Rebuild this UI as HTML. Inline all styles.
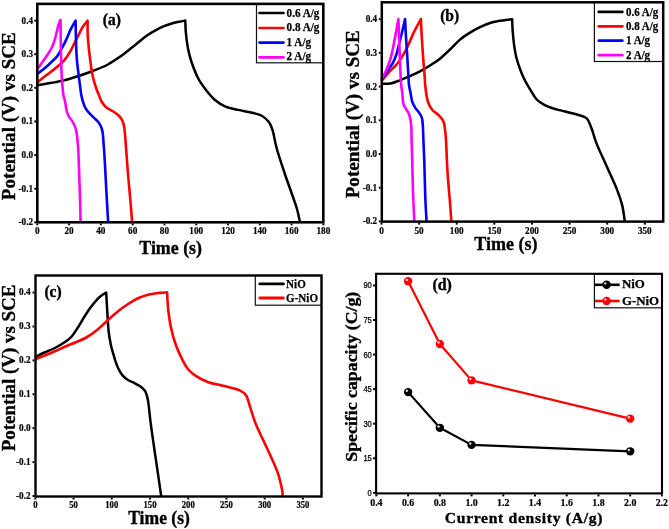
<!DOCTYPE html>
<html><head><meta charset="utf-8"><title>Figure</title>
<style>
html,body{margin:0;padding:0;background:#fff;}
body{width:669px;height:529px;overflow:hidden;font-family:"Liberation Serif", serif;}
svg{display:block;will-change:transform;}
</style></head><body>
<svg width="669" height="529" viewBox="0 0 669 529">
<rect width="669" height="529" fill="#fff"/>
<path d="M37.7,85.3 C39.78,84.93 45.75,83.95 50.2,83.1 C54.65,82.25 59.67,81.38 64.4,80.2 C69.13,79.02 73.88,77.53 78.6,76 C83.32,74.47 87.82,72.92 92.7,71 C97.58,69.08 103.17,67.02 107.9,64.5 C112.63,61.98 117.42,58.47 121.1,55.9 C124.78,53.33 127.1,51.37 130,49.1 C132.9,46.83 135.67,44.57 138.5,42.3 C141.33,40.03 144.17,37.48 147,35.5 C149.83,33.52 152.67,31.95 155.5,30.4 C158.33,28.85 161.17,27.38 164,26.2 C166.83,25.02 169.67,24.1 172.5,23.3 C175.33,22.5 178.87,21.87 181,21.4 C183.13,20.93 184.58,20.65 185.3,20.5 C185.38,22.43 185.38,27.62 185.8,32.1 C186.22,36.58 186.9,42.58 187.8,47.4 C188.7,52.22 189.5,55.9 191.2,61 C192.9,66.1 195.53,73.17 198,78 C200.47,82.83 203.17,86.33 206,90 C208.83,93.67 211.75,97.23 215,100 C218.25,102.77 221.62,104.95 225.5,106.6 C229.38,108.25 234.05,108.92 238.3,109.9 C242.55,110.88 247.17,111.57 251,112.5 C254.83,113.43 258.32,113.93 261.3,115.5 C264.28,117.07 266.98,119.35 268.9,121.9 C270.82,124.45 271.52,126.45 272.8,130.8 C274.08,135.15 274.7,141.13 276.6,148 C278.5,154.87 281.65,164.33 284.2,172 C286.75,179.67 289.77,187.83 291.9,194 C294.03,200.17 295.68,204.42 297,209 C298.32,213.58 299.33,219.42 299.8,221.5" fill="none" stroke="#000" stroke-width="2.5" stroke-linejoin="round" stroke-linecap="round"/>
<path d="M38.1,81.7 C39.25,80.8 42.68,78.08 45,76.3 C47.32,74.52 49.72,72.78 52,71 C54.28,69.22 56.63,67.4 58.7,65.6 C60.77,63.8 62.52,62.48 64.4,60.2 C66.28,57.92 68.35,54.7 70,51.9 C71.65,49.1 72.87,46.23 74.3,43.4 C75.73,40.57 77.18,37.67 78.6,34.9 C80.02,32.13 81.3,29.18 82.8,26.8 C84.3,24.43 86.8,21.67 87.6,20.65 C87.63,23.26 87.42,30.14 87.8,36.3 C88.18,42.46 89.08,50.98 89.9,57.6 C90.72,64.22 91.63,70.85 92.7,76 C93.77,81.15 95.27,85.33 96.3,88.5 C97.33,91.67 98.07,92.92 98.9,95 C99.73,97.08 100.15,99 101.3,101 C102.45,103 104.05,105.4 105.8,107 C107.55,108.6 109.8,109.32 111.8,110.6 C113.8,111.88 116.2,113.32 117.8,114.7 C119.4,116.08 120.4,117.2 121.4,118.9 C122.4,120.6 123.2,122.3 123.8,124.9 C124.4,127.5 124.6,130.32 125,134.5 C125.4,138.68 125.73,143.82 126.2,150 C126.67,156.18 127.12,163.33 127.8,171.6 C128.48,179.87 129.58,191.28 130.3,199.6 C131.02,207.92 131.8,217.85 132.1,221.5" fill="none" stroke="#f00" stroke-width="2.6" stroke-linejoin="round" stroke-linecap="round"/>
<path d="M38.1,73.2 C38.93,72.6 41.08,71.27 43.1,69.6 C45.12,67.93 47.83,65.45 50.2,63.2 C52.57,60.95 55.3,58.7 57.3,56.1 C59.3,53.5 60.67,50.43 62.2,47.6 C63.73,44.77 65.07,42.17 66.5,39.1 C67.93,36.03 69.28,32.27 70.8,29.2 C72.32,26.12 74.8,22.07 75.6,20.65 C75.65,23.26 75.72,30.14 75.9,36.3 C76.08,42.46 76.25,51.22 76.7,57.6 C77.15,63.98 78.05,69.95 78.6,74.6 C79.15,79.25 79.55,82.1 80,85.5 C80.45,88.9 80.78,92.22 81.3,95 C81.82,97.78 82.4,100 83.1,102.2 C83.8,104.4 84.5,106.42 85.5,108.2 C86.5,109.98 87.7,111.32 89.1,112.9 C90.5,114.48 92.3,116.1 93.9,117.7 C95.5,119.3 97.4,120.7 98.7,122.5 C100,124.3 101,126.5 101.7,128.5 C102.4,130.5 102.6,132.12 102.9,134.5 C103.2,136.88 103.3,140.22 103.5,142.8 C103.7,145.38 103.85,146.3 104.1,150 C104.35,153.7 104.63,158.33 105,165 C105.37,171.67 105.78,180.58 106.3,190 C106.82,199.42 107.8,216.25 108.1,221.5" fill="none" stroke="#00f" stroke-width="2.6" stroke-linejoin="round" stroke-linecap="round"/>
<path d="M38.1,68.2 C38.93,67 41.57,63.2 43.1,61 C44.63,58.8 45.88,57.17 47.3,55 C48.72,52.83 50.42,50.37 51.6,48 C52.78,45.63 53.57,43.38 54.4,40.8 C55.23,38.22 55.93,35.1 56.6,32.5 C57.27,29.9 57.75,27.27 58.4,25.2 C59.05,23.12 60.15,20.91 60.5,20.05 C60.55,23.94 60.63,34.79 60.8,43.4 C60.97,52.01 61.22,64.55 61.5,71.7 C61.78,78.85 62.18,82.42 62.5,86.3 C62.82,90.18 62.95,92.35 63.4,95 C63.85,97.65 64.67,99.6 65.2,102.2 C65.73,104.8 66,108.22 66.6,110.6 C67.2,112.98 67.83,114.72 68.8,116.5 C69.77,118.28 71.32,119.5 72.4,121.3 C73.48,123.1 74.55,125.1 75.3,127.3 C76.05,129.5 76.5,131.92 76.9,134.5 C77.3,137.08 77.47,140.22 77.7,142.8 C77.93,145.38 78.1,146.05 78.3,150 C78.5,153.95 78.62,158.67 78.9,166.5 C79.18,174.33 79.72,187.83 80,197 C80.28,206.17 80.5,217.42 80.6,221.5" fill="none" stroke="#f0f" stroke-width="2.6" stroke-linejoin="round" stroke-linecap="round"/>
<line x1="34.3" y1="222.32" x2="36.1" y2="222.32" stroke="#000" stroke-width="2"/>
<line x1="34.3" y1="188.7" x2="36.1" y2="188.7" stroke="#000" stroke-width="2"/>
<line x1="34.3" y1="155.08" x2="36.1" y2="155.08" stroke="#000" stroke-width="2"/>
<line x1="34.3" y1="121.46" x2="36.1" y2="121.46" stroke="#000" stroke-width="2"/>
<line x1="34.3" y1="87.84" x2="36.1" y2="87.84" stroke="#000" stroke-width="2"/>
<line x1="34.3" y1="54.22" x2="36.1" y2="54.22" stroke="#000" stroke-width="2"/>
<line x1="34.3" y1="20.6" x2="36.1" y2="20.6" stroke="#000" stroke-width="2"/>
<line x1="37.3" y1="223.5" x2="37.3" y2="225.3" stroke="#000" stroke-width="2"/>
<line x1="69.09" y1="223.5" x2="69.09" y2="225.3" stroke="#000" stroke-width="2"/>
<line x1="100.88" y1="223.5" x2="100.88" y2="225.3" stroke="#000" stroke-width="2"/>
<line x1="132.66" y1="223.5" x2="132.66" y2="225.3" stroke="#000" stroke-width="2"/>
<line x1="164.45" y1="223.5" x2="164.45" y2="225.3" stroke="#000" stroke-width="2"/>
<line x1="196.24" y1="223.5" x2="196.24" y2="225.3" stroke="#000" stroke-width="2"/>
<line x1="228.03" y1="223.5" x2="228.03" y2="225.3" stroke="#000" stroke-width="2"/>
<line x1="259.82" y1="223.5" x2="259.82" y2="225.3" stroke="#000" stroke-width="2"/>
<line x1="291.6" y1="223.5" x2="291.6" y2="225.3" stroke="#000" stroke-width="2"/>
<line x1="323.39" y1="223.5" x2="323.39" y2="225.3" stroke="#000" stroke-width="2"/>
<text x="33.1" y="225.32" font-size="10" font-weight="bold" text-anchor="end" font-family='"Liberation Serif", serif' textLength="14.56" lengthAdjust="spacingAndGlyphs"  stroke="#000" stroke-width="0.2">-0.2</text>
<text x="33.1" y="191.7" font-size="10" font-weight="bold" text-anchor="end" font-family='"Liberation Serif", serif' textLength="14.56" lengthAdjust="spacingAndGlyphs"  stroke="#000" stroke-width="0.2">-0.1</text>
<text x="33.1" y="158.08" font-size="10" font-weight="bold" text-anchor="end" font-family='"Liberation Serif", serif' textLength="11.5" lengthAdjust="spacingAndGlyphs"  stroke="#000" stroke-width="0.2">0.0</text>
<text x="33.1" y="124.46" font-size="10" font-weight="bold" text-anchor="end" font-family='"Liberation Serif", serif' textLength="11.5" lengthAdjust="spacingAndGlyphs"  stroke="#000" stroke-width="0.2">0.1</text>
<text x="33.1" y="90.84" font-size="10" font-weight="bold" text-anchor="end" font-family='"Liberation Serif", serif' textLength="11.5" lengthAdjust="spacingAndGlyphs"  stroke="#000" stroke-width="0.2">0.2</text>
<text x="33.1" y="57.22" font-size="10" font-weight="bold" text-anchor="end" font-family='"Liberation Serif", serif' textLength="11.5" lengthAdjust="spacingAndGlyphs"  stroke="#000" stroke-width="0.2">0.3</text>
<text x="33.1" y="23.6" font-size="10" font-weight="bold" text-anchor="end" font-family='"Liberation Serif", serif' textLength="11.5" lengthAdjust="spacingAndGlyphs"  stroke="#000" stroke-width="0.2">0.4</text>
<text x="37.3" y="233.9" font-size="10" font-weight="bold" text-anchor="middle" font-family='"Liberation Serif", serif' textLength="4.6" lengthAdjust="spacingAndGlyphs"  stroke="#000" stroke-width="0.2">0</text>
<text x="69.09" y="233.9" font-size="10" font-weight="bold" text-anchor="middle" font-family='"Liberation Serif", serif' textLength="9.2" lengthAdjust="spacingAndGlyphs"  stroke="#000" stroke-width="0.2">20</text>
<text x="100.88" y="233.9" font-size="10" font-weight="bold" text-anchor="middle" font-family='"Liberation Serif", serif' textLength="9.2" lengthAdjust="spacingAndGlyphs"  stroke="#000" stroke-width="0.2">40</text>
<text x="132.66" y="233.9" font-size="10" font-weight="bold" text-anchor="middle" font-family='"Liberation Serif", serif' textLength="9.2" lengthAdjust="spacingAndGlyphs"  stroke="#000" stroke-width="0.2">60</text>
<text x="164.45" y="233.9" font-size="10" font-weight="bold" text-anchor="middle" font-family='"Liberation Serif", serif' textLength="9.2" lengthAdjust="spacingAndGlyphs"  stroke="#000" stroke-width="0.2">80</text>
<text x="196.24" y="233.9" font-size="10" font-weight="bold" text-anchor="middle" font-family='"Liberation Serif", serif' textLength="13.8" lengthAdjust="spacingAndGlyphs"  stroke="#000" stroke-width="0.2">100</text>
<text x="228.03" y="233.9" font-size="10" font-weight="bold" text-anchor="middle" font-family='"Liberation Serif", serif' textLength="13.8" lengthAdjust="spacingAndGlyphs"  stroke="#000" stroke-width="0.2">120</text>
<text x="259.82" y="233.9" font-size="10" font-weight="bold" text-anchor="middle" font-family='"Liberation Serif", serif' textLength="13.8" lengthAdjust="spacingAndGlyphs"  stroke="#000" stroke-width="0.2">140</text>
<text x="291.6" y="233.9" font-size="10" font-weight="bold" text-anchor="middle" font-family='"Liberation Serif", serif' textLength="13.8" lengthAdjust="spacingAndGlyphs"  stroke="#000" stroke-width="0.2">160</text>
<text x="323.39" y="233.9" font-size="10" font-weight="bold" text-anchor="middle" font-family='"Liberation Serif", serif' textLength="13.8" lengthAdjust="spacingAndGlyphs"  stroke="#000" stroke-width="0.2">180</text>
<text stroke="#000" stroke-width="0.35" x="170.65" y="253.5" font-size="18.6" font-weight="bold" text-anchor="middle" font-family='"Liberation Serif", serif' textLength="62.7" lengthAdjust="spacingAndGlyphs">Time (s)</text>
<text stroke="#000" stroke-width="0.35" transform="translate(14.6,116.2) rotate(-90)" font-size="19.2" font-weight="bold" text-anchor="middle" font-family='"Liberation Serif", serif' textLength="167.9" lengthAdjust="spacingAndGlyphs">Potential (V) vs SCE</text>
<text x="111.8" y="24.8" font-size="16" font-weight="bold" text-anchor="middle" font-family='"Liberation Serif", serif' textLength="18.1" lengthAdjust="spacingAndGlyphs"  stroke="#000" stroke-width="0.4">(a)</text>
<rect x="256.5" y="3.9" width="66.8" height="58.9" fill="#fff" stroke="#111" stroke-width="1.2"/>
<rect x="37.3" y="3.9" width="286" height="218.4" fill="none" stroke="#000" stroke-width="2.6"/>
<line x1="259.5" y1="13" x2="283.5" y2="13" stroke="#000" stroke-width="2.7" stroke-linecap="round"/>
<text x="286.6" y="17" font-size="12.4" font-weight="bold" text-anchor="start" font-family='"Liberation Serif", serif' textLength="32.86" lengthAdjust="spacingAndGlyphs"  stroke="#000" stroke-width="0.25">0.6 A/g</text>
<line x1="259.5" y1="28" x2="283.5" y2="28" stroke="#f00" stroke-width="2.7" stroke-linecap="round"/>
<text x="286.6" y="31.4" font-size="12.4" font-weight="bold" text-anchor="start" font-family='"Liberation Serif", serif' textLength="32.86" lengthAdjust="spacingAndGlyphs"  stroke="#000" stroke-width="0.25">0.8 A/g</text>
<line x1="259.5" y1="42.6" x2="283.5" y2="42.6" stroke="#00f" stroke-width="2.7" stroke-linecap="round"/>
<text x="286.6" y="46.1" font-size="12.4" font-weight="bold" text-anchor="start" font-family='"Liberation Serif", serif' textLength="24.49" lengthAdjust="spacingAndGlyphs"  stroke="#000" stroke-width="0.25">1 A/g</text>
<line x1="259.5" y1="57.3" x2="283.5" y2="57.3" stroke="#f0f" stroke-width="2.7" stroke-linecap="round"/>
<text x="286.6" y="60.3" font-size="12.4" font-weight="bold" text-anchor="start" font-family='"Liberation Serif", serif' textLength="24.49" lengthAdjust="spacingAndGlyphs"  stroke="#000" stroke-width="0.25">2 A/g</text>
<path d="M381.9,83.6 C383.25,83.6 386.98,84.15 390,83.6 C393.02,83.05 396.67,81.57 400,80.3 C403.33,79.03 406.67,77.5 410,76 C413.33,74.5 416.67,73.05 420,71.3 C423.33,69.55 426.67,67.58 430,65.5 C433.33,63.42 436.67,61.47 440,58.8 C443.33,56.13 446.67,52.7 450,49.5 C453.33,46.3 456.67,42.42 460,39.6 C463.33,36.78 466.67,34.68 470,32.6 C473.33,30.52 476.67,28.7 480,27.1 C483.33,25.5 486.67,24.05 490,23 C493.33,21.95 497.17,21.33 500,20.8 C502.83,20.27 504.97,20.05 507,19.8 C509.03,19.55 511.33,19.38 512.2,19.3 C512.27,21.08 512.28,25.7 512.6,30 C512.92,34.3 513.48,40.57 514.1,45.1 C514.72,49.63 515.3,53.17 516.3,57.2 C517.3,61.23 518.72,65.53 520.1,69.3 C521.48,73.07 522.83,76.28 524.6,79.8 C526.37,83.32 528.68,87.12 530.7,90.4 C532.72,93.68 534.43,97.1 536.7,99.5 C538.97,101.9 541.53,103.3 544.3,104.8 C547.07,106.3 550.55,107.57 553.3,108.5 C556.05,109.43 556.98,109.43 560.8,110.4 C564.62,111.37 571.93,113.02 576.2,114.3 C580.47,115.58 583.85,115.77 586.4,118.1 C588.95,120.43 589.8,124.05 591.5,128.3 C593.2,132.55 594.05,137.22 596.6,143.6 C599.15,149.98 603.4,158.93 606.8,166.6 C610.2,174.27 614.45,183.22 617,189.6 C619.55,195.98 620.82,199.75 622.1,204.9 C623.38,210.05 624.27,217.9 624.7,220.5" fill="none" stroke="#000" stroke-width="2.5" stroke-linejoin="round" stroke-linecap="round"/>
<path d="M381.9,80.5 C383.02,79.17 386.28,75.03 388.6,72.5 C390.92,69.97 393.63,67.78 395.8,65.3 C397.97,62.82 399.68,60.6 401.6,57.6 C403.52,54.6 405.4,51.22 407.3,47.3 C409.2,43.38 411.32,37.73 413,34.1 C414.68,30.47 416.08,28.02 417.4,25.5 C418.72,22.98 420.32,20.08 420.9,19 C421.03,21.77 421.33,29.25 421.7,35.6 C422.07,41.95 422.62,50.4 423.1,57.1 C423.58,63.8 424.25,71.15 424.6,75.8 C424.95,80.45 424.93,82.08 425.2,85 C425.47,87.92 425.68,90.35 426.2,93.3 C426.72,96.25 427.27,99.92 428.3,102.7 C429.33,105.48 430.67,107.92 432.4,110 C434.13,112.08 436.87,113.3 438.7,115.2 C440.53,117.1 442.37,119.15 443.4,121.4 C444.43,123.65 444.47,125.6 444.9,128.7 C445.33,131.8 445.57,132.82 446,140 C446.43,147.18 446.83,161.4 447.5,171.8 C448.17,182.2 449.37,194.28 450,202.4 C450.63,210.52 451.08,217.48 451.3,220.5" fill="none" stroke="#f00" stroke-width="2.6" stroke-linejoin="round" stroke-linecap="round"/>
<path d="M381.9,79.4 C382.78,78.08 385.37,74.25 387.2,71.5 C389.03,68.75 391.35,65.78 392.9,62.9 C394.45,60.02 395.42,57.57 396.5,54.2 C397.58,50.83 398.43,46.53 399.4,42.7 C400.37,38.87 401.35,35.15 402.3,31.2 C403.25,27.25 404.63,21.03 405.1,19 C405.23,21.77 405.53,29.25 405.9,35.6 C406.27,41.95 406.9,50.65 407.3,57.1 C407.7,63.55 408.02,69.65 408.3,74.3 C408.58,78.95 408.62,81.83 409,85 C409.38,88.17 410.07,90.53 410.6,93.3 C411.13,96.07 411.42,99.17 412.2,101.6 C412.98,104.03 414.1,105.98 415.3,107.9 C416.5,109.82 418.28,111.37 419.4,113.1 C420.52,114.83 421.42,116.05 422,118.3 C422.58,120.55 422.67,122.98 422.9,126.6 C423.13,130.22 423.17,134.18 423.4,140 C423.63,145.82 423.98,151.95 424.3,161.5 C424.62,171.05 424.93,187.47 425.3,197.3 C425.67,207.13 426.3,216.63 426.5,220.5" fill="none" stroke="#00f" stroke-width="2.6" stroke-linejoin="round" stroke-linecap="round"/>
<path d="M381.9,78.7 C382.53,77.5 384.33,74.62 385.7,71.5 C387.07,68.38 388.9,63.83 390.1,60 C391.3,56.17 392.07,52.33 392.9,48.5 C393.73,44.67 394.42,40.6 395.1,37 C395.78,33.4 396.45,29.9 397,26.9 C397.55,23.9 398.17,20.32 398.4,19 C398.5,21.77 398.77,29.25 399,35.6 C399.23,41.95 399.53,50.4 399.8,57.1 C400.07,63.8 400.37,71.15 400.6,75.8 C400.83,80.45 400.92,82.08 401.2,85 C401.48,87.92 401.95,90.18 402.3,93.3 C402.65,96.42 402.78,101.27 403.3,103.7 C403.82,106.13 404.53,106.33 405.4,107.9 C406.27,109.47 407.63,111.02 408.5,113.1 C409.37,115.18 410.12,117.8 410.6,120.4 C411.08,123 411.23,125.43 411.4,128.7 C411.57,131.97 411.47,134.78 411.6,140 C411.73,145.22 411.97,151.33 412.2,160 C412.43,168.67 412.65,181.92 413,192 C413.35,202.08 414.08,215.75 414.3,220.5" fill="none" stroke="#f0f" stroke-width="2.6" stroke-linejoin="round" stroke-linecap="round"/>
<line x1="378.8" y1="221.4" x2="380.6" y2="221.4" stroke="#000" stroke-width="2"/>
<line x1="378.8" y1="187.7" x2="380.6" y2="187.7" stroke="#000" stroke-width="2"/>
<line x1="378.8" y1="154" x2="380.6" y2="154" stroke="#000" stroke-width="2"/>
<line x1="378.8" y1="120.3" x2="380.6" y2="120.3" stroke="#000" stroke-width="2"/>
<line x1="378.8" y1="86.6" x2="380.6" y2="86.6" stroke="#000" stroke-width="2"/>
<line x1="378.8" y1="52.9" x2="380.6" y2="52.9" stroke="#000" stroke-width="2"/>
<line x1="378.8" y1="19.2" x2="380.6" y2="19.2" stroke="#000" stroke-width="2"/>
<line x1="381.5" y1="222.8" x2="381.5" y2="224.6" stroke="#000" stroke-width="2"/>
<line x1="419.12" y1="222.8" x2="419.12" y2="224.6" stroke="#000" stroke-width="2"/>
<line x1="456.73" y1="222.8" x2="456.73" y2="224.6" stroke="#000" stroke-width="2"/>
<line x1="494.35" y1="222.8" x2="494.35" y2="224.6" stroke="#000" stroke-width="2"/>
<line x1="531.96" y1="222.8" x2="531.96" y2="224.6" stroke="#000" stroke-width="2"/>
<line x1="569.58" y1="222.8" x2="569.58" y2="224.6" stroke="#000" stroke-width="2"/>
<line x1="607.19" y1="222.8" x2="607.19" y2="224.6" stroke="#000" stroke-width="2"/>
<line x1="644.81" y1="222.8" x2="644.81" y2="224.6" stroke="#000" stroke-width="2"/>
<text x="377.2" y="224.4" font-size="10" font-weight="bold" text-anchor="end" font-family='"Liberation Serif", serif' textLength="14.56" lengthAdjust="spacingAndGlyphs"  stroke="#000" stroke-width="0.2">-0.2</text>
<text x="377.2" y="190.7" font-size="10" font-weight="bold" text-anchor="end" font-family='"Liberation Serif", serif' textLength="14.56" lengthAdjust="spacingAndGlyphs"  stroke="#000" stroke-width="0.2">-0.1</text>
<text x="377.2" y="157" font-size="10" font-weight="bold" text-anchor="end" font-family='"Liberation Serif", serif' textLength="11.5" lengthAdjust="spacingAndGlyphs"  stroke="#000" stroke-width="0.2">0.0</text>
<text x="377.2" y="123.3" font-size="10" font-weight="bold" text-anchor="end" font-family='"Liberation Serif", serif' textLength="11.5" lengthAdjust="spacingAndGlyphs"  stroke="#000" stroke-width="0.2">0.1</text>
<text x="377.2" y="89.6" font-size="10" font-weight="bold" text-anchor="end" font-family='"Liberation Serif", serif' textLength="11.5" lengthAdjust="spacingAndGlyphs"  stroke="#000" stroke-width="0.2">0.2</text>
<text x="377.2" y="55.9" font-size="10" font-weight="bold" text-anchor="end" font-family='"Liberation Serif", serif' textLength="11.5" lengthAdjust="spacingAndGlyphs"  stroke="#000" stroke-width="0.2">0.3</text>
<text x="377.2" y="22.2" font-size="10" font-weight="bold" text-anchor="end" font-family='"Liberation Serif", serif' textLength="11.5" lengthAdjust="spacingAndGlyphs"  stroke="#000" stroke-width="0.2">0.4</text>
<text x="381.5" y="233.8" font-size="10" font-weight="bold" text-anchor="middle" font-family='"Liberation Serif", serif' textLength="4.6" lengthAdjust="spacingAndGlyphs"  stroke="#000" stroke-width="0.2">0</text>
<text x="419.12" y="233.8" font-size="10" font-weight="bold" text-anchor="middle" font-family='"Liberation Serif", serif' textLength="9.2" lengthAdjust="spacingAndGlyphs"  stroke="#000" stroke-width="0.2">50</text>
<text x="456.73" y="233.8" font-size="10" font-weight="bold" text-anchor="middle" font-family='"Liberation Serif", serif' textLength="13.8" lengthAdjust="spacingAndGlyphs"  stroke="#000" stroke-width="0.2">100</text>
<text x="494.35" y="233.8" font-size="10" font-weight="bold" text-anchor="middle" font-family='"Liberation Serif", serif' textLength="13.8" lengthAdjust="spacingAndGlyphs"  stroke="#000" stroke-width="0.2">150</text>
<text x="531.96" y="233.8" font-size="10" font-weight="bold" text-anchor="middle" font-family='"Liberation Serif", serif' textLength="13.8" lengthAdjust="spacingAndGlyphs"  stroke="#000" stroke-width="0.2">200</text>
<text x="569.58" y="233.8" font-size="10" font-weight="bold" text-anchor="middle" font-family='"Liberation Serif", serif' textLength="13.8" lengthAdjust="spacingAndGlyphs"  stroke="#000" stroke-width="0.2">250</text>
<text x="607.19" y="233.8" font-size="10" font-weight="bold" text-anchor="middle" font-family='"Liberation Serif", serif' textLength="13.8" lengthAdjust="spacingAndGlyphs"  stroke="#000" stroke-width="0.2">300</text>
<text x="644.81" y="233.8" font-size="10" font-weight="bold" text-anchor="middle" font-family='"Liberation Serif", serif' textLength="13.8" lengthAdjust="spacingAndGlyphs"  stroke="#000" stroke-width="0.2">350</text>
<text stroke="#000" stroke-width="0.35" x="505.95" y="249.8" font-size="18.6" font-weight="bold" text-anchor="middle" font-family='"Liberation Serif", serif' textLength="63.3" lengthAdjust="spacingAndGlyphs">Time (s)</text>
<text stroke="#000" stroke-width="0.35" transform="translate(358.6,114.25) rotate(-90)" font-size="19.2" font-weight="bold" text-anchor="middle" font-family='"Liberation Serif", serif' textLength="168.1" lengthAdjust="spacingAndGlyphs">Potential (V) vs SCE</text>
<text x="449.7" y="20.8" font-size="16" font-weight="bold" text-anchor="middle" font-family='"Liberation Serif", serif' textLength="18.97" lengthAdjust="spacingAndGlyphs"  stroke="#000" stroke-width="0.4">(b)</text>
<rect x="594.4" y="2.3" width="68.8" height="59.2" fill="#fff" stroke="#111" stroke-width="1.2"/>
<rect x="381.8" y="2.3" width="281.4" height="219.3" fill="none" stroke="#000" stroke-width="2.5"/>
<line x1="598.8" y1="11.9" x2="622.3" y2="11.9" stroke="#000" stroke-width="2.8" stroke-linecap="round"/>
<text x="626" y="15.5" font-size="12.2" font-weight="bold" text-anchor="start" font-family='"Liberation Serif", serif' textLength="32.33" lengthAdjust="spacingAndGlyphs"  stroke="#000" stroke-width="0.25">0.6 A/g</text>
<line x1="598.8" y1="26.3" x2="622.3" y2="26.3" stroke="#f00" stroke-width="2.8" stroke-linecap="round"/>
<text x="626" y="29.9" font-size="12.2" font-weight="bold" text-anchor="start" font-family='"Liberation Serif", serif' textLength="32.33" lengthAdjust="spacingAndGlyphs"  stroke="#000" stroke-width="0.25">0.8 A/g</text>
<line x1="598.8" y1="40.699999999999996" x2="622.3" y2="40.699999999999996" stroke="#00f" stroke-width="2.8" stroke-linecap="round"/>
<text x="626" y="44.3" font-size="12.2" font-weight="bold" text-anchor="start" font-family='"Liberation Serif", serif' textLength="24.1" lengthAdjust="spacingAndGlyphs"  stroke="#000" stroke-width="0.25">1 A/g</text>
<line x1="598.8" y1="55.199999999999996" x2="622.3" y2="55.199999999999996" stroke="#f0f" stroke-width="2.8" stroke-linecap="round"/>
<text x="626" y="58.8" font-size="12.2" font-weight="bold" text-anchor="start" font-family='"Liberation Serif", serif' textLength="24.1" lengthAdjust="spacingAndGlyphs"  stroke="#000" stroke-width="0.25">2 A/g</text>
<path d="M35.9,356.6 C37.33,355.92 41.33,353.93 44.5,352.5 C47.67,351.07 51.42,349.78 54.9,348 C58.38,346.22 62.6,343.72 65.4,341.8 C68.2,339.88 69.62,338.88 71.7,336.5 C73.78,334.12 75.82,330.75 77.9,327.5 C79.98,324.25 82.1,320.33 84.2,317 C86.3,313.67 88.4,310.37 90.5,307.5 C92.6,304.63 94.97,301.78 96.8,299.8 C98.63,297.82 99.93,296.8 101.5,295.6 C103.07,294.4 105.42,293.1 106.2,292.6 C106.35,295.23 106.7,302 107.1,308.4 C107.5,314.8 107.97,324.9 108.6,331 C109.23,337.1 110.07,341 110.9,345 C111.73,349 112.85,352.3 113.6,355 C114.35,357.7 114.62,358.95 115.4,361.2 C116.18,363.45 117.12,366.13 118.3,368.5 C119.48,370.87 120.93,373.52 122.5,375.4 C124.07,377.28 125.62,378.47 127.7,379.8 C129.78,381.13 132.75,382.2 135,383.4 C137.25,384.6 139.48,385.67 141.2,387 C142.92,388.33 144.27,389.63 145.3,391.4 C146.33,393.17 146.87,395.52 147.4,397.6 C147.93,399.68 148.2,401.83 148.5,403.9 C148.8,405.97 148.82,406.63 149.2,410 C149.58,413.37 149.95,417.65 150.8,424.1 C151.65,430.55 153.12,440.5 154.3,448.7 C155.48,456.9 156.77,465.52 157.9,473.3 C159.03,481.08 160.57,491.72 161.1,495.4" fill="none" stroke="#000" stroke-width="2.5" stroke-linejoin="round" stroke-linecap="round"/>
<path d="M35.9,359 C37.33,358.43 41.33,356.88 44.5,355.6 C47.67,354.32 51.42,352.82 54.9,351.3 C58.38,349.78 61.92,348.02 65.4,346.5 C68.88,344.98 72.32,343.7 75.8,342.2 C79.28,340.7 82.8,339.5 86.3,337.5 C89.8,335.5 93.32,332.98 96.8,330.2 C100.28,327.42 103.72,323.92 107.2,320.8 C110.68,317.68 114.22,314.3 117.7,311.5 C121.18,308.7 124.62,306.25 128.1,304 C131.58,301.75 135.1,299.58 138.6,298 C142.1,296.42 145.62,295.35 149.1,294.5 C152.58,293.65 156.5,293.25 159.5,292.9 C162.5,292.55 165.83,292.48 167.1,292.4 C167.27,295.07 167.47,302.58 168.1,308.4 C168.73,314.22 169.65,321.32 170.9,327.3 C172.15,333.28 173.55,338.63 175.6,344.3 C177.65,349.97 181.02,357.02 183.2,361.3 C185.38,365.58 186.55,367.53 188.7,370 C190.85,372.47 192.82,374.05 196.1,376.1 C199.38,378.15 204.32,380.78 208.4,382.3 C212.48,383.82 217.58,384.5 220.6,385.2 C223.62,385.9 223.32,385.63 226.5,386.5 C229.68,387.37 236.4,388.87 239.7,390.4 C243,391.93 244.53,392.82 246.3,395.7 C248.07,398.58 248.75,403.07 250.3,407.7 C251.85,412.33 253.4,417.98 255.6,423.5 C257.8,429.02 260.85,435.05 263.5,440.8 C266.15,446.55 269.07,452.5 271.5,458 C273.93,463.5 276.33,468.52 278.1,473.8 C279.87,479.08 281.35,486.08 282.1,489.7 C282.85,493.32 282.52,494.53 282.6,495.5" fill="none" stroke="#f00" stroke-width="2.6" stroke-linejoin="round" stroke-linecap="round"/>
<line x1="32.5" y1="496" x2="34.3" y2="496" stroke="#000" stroke-width="2"/>
<line x1="32.5" y1="462.1" x2="34.3" y2="462.1" stroke="#000" stroke-width="2"/>
<line x1="32.5" y1="428.2" x2="34.3" y2="428.2" stroke="#000" stroke-width="2"/>
<line x1="32.5" y1="394.3" x2="34.3" y2="394.3" stroke="#000" stroke-width="2"/>
<line x1="32.5" y1="360.4" x2="34.3" y2="360.4" stroke="#000" stroke-width="2"/>
<line x1="32.5" y1="326.5" x2="34.3" y2="326.5" stroke="#000" stroke-width="2"/>
<line x1="32.5" y1="292.6" x2="34.3" y2="292.6" stroke="#000" stroke-width="2"/>
<line x1="35.3" y1="497.7" x2="35.3" y2="499.5" stroke="#000" stroke-width="2"/>
<line x1="73.53" y1="497.7" x2="73.53" y2="499.5" stroke="#000" stroke-width="2"/>
<line x1="111.76" y1="497.7" x2="111.76" y2="499.5" stroke="#000" stroke-width="2"/>
<line x1="149.99" y1="497.7" x2="149.99" y2="499.5" stroke="#000" stroke-width="2"/>
<line x1="188.22" y1="497.7" x2="188.22" y2="499.5" stroke="#000" stroke-width="2"/>
<line x1="226.45" y1="497.7" x2="226.45" y2="499.5" stroke="#000" stroke-width="2"/>
<line x1="264.68" y1="497.7" x2="264.68" y2="499.5" stroke="#000" stroke-width="2"/>
<line x1="302.91" y1="497.7" x2="302.91" y2="499.5" stroke="#000" stroke-width="2"/>
<text x="30.6" y="498.6" font-size="10" font-weight="bold" text-anchor="end" font-family='"Liberation Serif", serif' textLength="14.56" lengthAdjust="spacingAndGlyphs"  stroke="#000" stroke-width="0.2">-0.2</text>
<text x="30.6" y="464.7" font-size="10" font-weight="bold" text-anchor="end" font-family='"Liberation Serif", serif' textLength="14.56" lengthAdjust="spacingAndGlyphs"  stroke="#000" stroke-width="0.2">-0.1</text>
<text x="30.6" y="430.8" font-size="10" font-weight="bold" text-anchor="end" font-family='"Liberation Serif", serif' textLength="11.5" lengthAdjust="spacingAndGlyphs"  stroke="#000" stroke-width="0.2">0.0</text>
<text x="30.6" y="396.9" font-size="10" font-weight="bold" text-anchor="end" font-family='"Liberation Serif", serif' textLength="11.5" lengthAdjust="spacingAndGlyphs"  stroke="#000" stroke-width="0.2">0.1</text>
<text x="30.6" y="363" font-size="10" font-weight="bold" text-anchor="end" font-family='"Liberation Serif", serif' textLength="11.5" lengthAdjust="spacingAndGlyphs"  stroke="#000" stroke-width="0.2">0.2</text>
<text x="30.6" y="329.1" font-size="10" font-weight="bold" text-anchor="end" font-family='"Liberation Serif", serif' textLength="11.5" lengthAdjust="spacingAndGlyphs"  stroke="#000" stroke-width="0.2">0.3</text>
<text x="30.6" y="295.2" font-size="10" font-weight="bold" text-anchor="end" font-family='"Liberation Serif", serif' textLength="11.5" lengthAdjust="spacingAndGlyphs"  stroke="#000" stroke-width="0.2">0.4</text>
<text x="35.3" y="508.4" font-size="9.4" font-weight="bold" text-anchor="middle" font-family='"Liberation Serif", serif' textLength="4.32" lengthAdjust="spacingAndGlyphs"  stroke="#000" stroke-width="0.2">0</text>
<text x="73.53" y="508.4" font-size="9.4" font-weight="bold" text-anchor="middle" font-family='"Liberation Serif", serif' textLength="8.65" lengthAdjust="spacingAndGlyphs"  stroke="#000" stroke-width="0.2">50</text>
<text x="111.76" y="508.4" font-size="9.4" font-weight="bold" text-anchor="middle" font-family='"Liberation Serif", serif' textLength="12.97" lengthAdjust="spacingAndGlyphs"  stroke="#000" stroke-width="0.2">100</text>
<text x="149.99" y="508.4" font-size="9.4" font-weight="bold" text-anchor="middle" font-family='"Liberation Serif", serif' textLength="12.97" lengthAdjust="spacingAndGlyphs"  stroke="#000" stroke-width="0.2">150</text>
<text x="188.22" y="508.4" font-size="9.4" font-weight="bold" text-anchor="middle" font-family='"Liberation Serif", serif' textLength="12.97" lengthAdjust="spacingAndGlyphs"  stroke="#000" stroke-width="0.2">200</text>
<text x="226.45" y="508.4" font-size="9.4" font-weight="bold" text-anchor="middle" font-family='"Liberation Serif", serif' textLength="12.97" lengthAdjust="spacingAndGlyphs"  stroke="#000" stroke-width="0.2">250</text>
<text x="264.68" y="508.4" font-size="9.4" font-weight="bold" text-anchor="middle" font-family='"Liberation Serif", serif' textLength="12.97" lengthAdjust="spacingAndGlyphs"  stroke="#000" stroke-width="0.2">300</text>
<text x="302.91" y="508.4" font-size="9.4" font-weight="bold" text-anchor="middle" font-family='"Liberation Serif", serif' textLength="12.97" lengthAdjust="spacingAndGlyphs"  stroke="#000" stroke-width="0.2">350</text>
<text stroke="#000" stroke-width="0.35" x="159.05" y="523.7" font-size="18.4" font-weight="bold" text-anchor="middle" font-family='"Liberation Serif", serif' textLength="61.7" lengthAdjust="spacingAndGlyphs">Time (s)</text>
<text stroke="#000" stroke-width="0.35" transform="translate(15,368) rotate(-90)" font-size="19" font-weight="bold" text-anchor="middle" font-family='"Liberation Serif", serif' textLength="166.6" lengthAdjust="spacingAndGlyphs">Potential (V) vs SCE</text>
<text x="53" y="297" font-size="16" font-weight="bold" text-anchor="middle" font-family='"Liberation Serif", serif' textLength="17.23" lengthAdjust="spacingAndGlyphs"  stroke="#000" stroke-width="0.4">(c)</text>
<rect x="255.3" y="275.5" width="66.2" height="29.7" fill="#fff" stroke="#111" stroke-width="1.2"/>
<rect x="35.5" y="275.5" width="286" height="221" fill="none" stroke="#000" stroke-width="2.4"/>
<line x1="259.8" y1="283.9" x2="283.4" y2="283.9" stroke="#000" stroke-width="2.8" stroke-linecap="round"/>
<text x="286.1" y="287.8" font-size="12.4" font-weight="bold" text-anchor="start" font-family='"Liberation Serif", serif' textLength="19.62" lengthAdjust="spacingAndGlyphs"  stroke="#000" stroke-width="0.25">NiO</text>
<line x1="259.8" y1="298" x2="283.4" y2="298" stroke="#f00" stroke-width="2.8" stroke-linecap="round"/>
<text x="286.1" y="302" font-size="12.4" font-weight="bold" text-anchor="start" font-family='"Liberation Serif", serif' textLength="31.88" lengthAdjust="spacingAndGlyphs"  stroke="#000" stroke-width="0.25">G-NiO</text>
<polyline points="408.12,392.12 439.84,427.83 471.56,444.88 630.16,451.33" fill="none" stroke="#000" stroke-width="2.2" stroke-linejoin="round"/>
<circle cx="408.12" cy="392.12" r="4.2" fill="#000"/>
<circle cx="406.82" cy="390.72" r="1.2" fill="#fff" opacity="0.85"/>
<circle cx="439.84" cy="427.83" r="4.2" fill="#000"/>
<circle cx="438.54" cy="426.43" r="1.2" fill="#fff" opacity="0.85"/>
<circle cx="471.56" cy="444.88" r="4.2" fill="#000"/>
<circle cx="470.26" cy="443.48" r="1.2" fill="#fff" opacity="0.85"/>
<circle cx="630.16" cy="451.33" r="4.2" fill="#000"/>
<circle cx="628.86" cy="449.93" r="1.2" fill="#fff" opacity="0.85"/>
<polyline points="408.12,281.29 439.84,343.96 471.56,380.36 630.16,418.61" fill="none" stroke="#f00" stroke-width="2.2" stroke-linejoin="round"/>
<circle cx="408.12" cy="281.29" r="4.2" fill="#f00"/>
<circle cx="406.82" cy="279.89" r="1.2" fill="#fff" opacity="0.85"/>
<circle cx="439.84" cy="343.96" r="4.2" fill="#f00"/>
<circle cx="438.54" cy="342.56" r="1.2" fill="#fff" opacity="0.85"/>
<circle cx="471.56" cy="380.36" r="4.2" fill="#f00"/>
<circle cx="470.26" cy="378.96" r="1.2" fill="#fff" opacity="0.85"/>
<circle cx="630.16" cy="418.61" r="4.2" fill="#f00"/>
<circle cx="628.86" cy="417.21" r="1.2" fill="#fff" opacity="0.85"/>
<line x1="373.1" y1="492.8" x2="375.1" y2="492.8" stroke="#000" stroke-width="2"/>
<line x1="373.1" y1="458.24" x2="375.1" y2="458.24" stroke="#000" stroke-width="2"/>
<line x1="373.1" y1="423.68" x2="375.1" y2="423.68" stroke="#000" stroke-width="2"/>
<line x1="373.1" y1="389.12" x2="375.1" y2="389.12" stroke="#000" stroke-width="2"/>
<line x1="373.1" y1="354.56" x2="375.1" y2="354.56" stroke="#000" stroke-width="2"/>
<line x1="373.1" y1="320" x2="375.1" y2="320" stroke="#000" stroke-width="2"/>
<line x1="373.1" y1="285.44" x2="375.1" y2="285.44" stroke="#000" stroke-width="2"/>
<line x1="376.4" y1="494.4" x2="376.4" y2="496.4" stroke="#000" stroke-width="2"/>
<line x1="408.12" y1="494.4" x2="408.12" y2="496.4" stroke="#000" stroke-width="2"/>
<line x1="439.84" y1="494.4" x2="439.84" y2="496.4" stroke="#000" stroke-width="2"/>
<line x1="471.56" y1="494.4" x2="471.56" y2="496.4" stroke="#000" stroke-width="2"/>
<line x1="503.28" y1="494.4" x2="503.28" y2="496.4" stroke="#000" stroke-width="2"/>
<line x1="535" y1="494.4" x2="535" y2="496.4" stroke="#000" stroke-width="2"/>
<line x1="566.72" y1="494.4" x2="566.72" y2="496.4" stroke="#000" stroke-width="2"/>
<line x1="598.44" y1="494.4" x2="598.44" y2="496.4" stroke="#000" stroke-width="2"/>
<line x1="630.16" y1="494.4" x2="630.16" y2="496.4" stroke="#000" stroke-width="2"/>
<line x1="661.88" y1="494.4" x2="661.88" y2="496.4" stroke="#000" stroke-width="2"/>
<text x="371.8" y="495.8" font-size="8.4" font-weight="normal" text-anchor="end" font-family='"Liberation Sans", sans-serif' textLength="4.2" lengthAdjust="spacingAndGlyphs"  stroke="#000" stroke-width="0.25">0</text>
<text x="371.8" y="461.24" font-size="8.4" font-weight="normal" text-anchor="end" font-family='"Liberation Sans", sans-serif' textLength="8.41" lengthAdjust="spacingAndGlyphs"  stroke="#000" stroke-width="0.25">15</text>
<text x="371.8" y="426.68" font-size="8.4" font-weight="normal" text-anchor="end" font-family='"Liberation Sans", sans-serif' textLength="8.41" lengthAdjust="spacingAndGlyphs"  stroke="#000" stroke-width="0.25">30</text>
<text x="371.8" y="392.12" font-size="8.4" font-weight="normal" text-anchor="end" font-family='"Liberation Sans", sans-serif' textLength="8.41" lengthAdjust="spacingAndGlyphs"  stroke="#000" stroke-width="0.25">45</text>
<text x="371.8" y="357.56" font-size="8.4" font-weight="normal" text-anchor="end" font-family='"Liberation Sans", sans-serif' textLength="8.41" lengthAdjust="spacingAndGlyphs"  stroke="#000" stroke-width="0.25">60</text>
<text x="371.8" y="323" font-size="8.4" font-weight="normal" text-anchor="end" font-family='"Liberation Sans", sans-serif' textLength="8.41" lengthAdjust="spacingAndGlyphs"  stroke="#000" stroke-width="0.25">75</text>
<text x="371.8" y="288.44" font-size="8.4" font-weight="normal" text-anchor="end" font-family='"Liberation Sans", sans-serif' textLength="8.41" lengthAdjust="spacingAndGlyphs"  stroke="#000" stroke-width="0.25">90</text>
<text x="376.4" y="505.8" font-size="10.5" font-weight="bold" text-anchor="middle" font-family='"Liberation Serif", serif' textLength="12.34" lengthAdjust="spacingAndGlyphs"  stroke="#000" stroke-width="0.2">0.4</text>
<text x="408.12" y="505.8" font-size="10.5" font-weight="bold" text-anchor="middle" font-family='"Liberation Serif", serif' textLength="12.34" lengthAdjust="spacingAndGlyphs"  stroke="#000" stroke-width="0.2">0.6</text>
<text x="439.84" y="505.8" font-size="10.5" font-weight="bold" text-anchor="middle" font-family='"Liberation Serif", serif' textLength="12.34" lengthAdjust="spacingAndGlyphs"  stroke="#000" stroke-width="0.2">0.8</text>
<text x="471.56" y="505.8" font-size="10.5" font-weight="bold" text-anchor="middle" font-family='"Liberation Serif", serif' textLength="12.34" lengthAdjust="spacingAndGlyphs"  stroke="#000" stroke-width="0.2">1.0</text>
<text x="503.28" y="505.8" font-size="10.5" font-weight="bold" text-anchor="middle" font-family='"Liberation Serif", serif' textLength="12.34" lengthAdjust="spacingAndGlyphs"  stroke="#000" stroke-width="0.2">1.2</text>
<text x="535" y="505.8" font-size="10.5" font-weight="bold" text-anchor="middle" font-family='"Liberation Serif", serif' textLength="12.34" lengthAdjust="spacingAndGlyphs"  stroke="#000" stroke-width="0.2">1.4</text>
<text x="566.72" y="505.8" font-size="10.5" font-weight="bold" text-anchor="middle" font-family='"Liberation Serif", serif' textLength="12.34" lengthAdjust="spacingAndGlyphs"  stroke="#000" stroke-width="0.2">1.6</text>
<text x="598.44" y="505.8" font-size="10.5" font-weight="bold" text-anchor="middle" font-family='"Liberation Serif", serif' textLength="12.34" lengthAdjust="spacingAndGlyphs"  stroke="#000" stroke-width="0.2">1.8</text>
<text x="630.16" y="505.8" font-size="10.5" font-weight="bold" text-anchor="middle" font-family='"Liberation Serif", serif' textLength="12.34" lengthAdjust="spacingAndGlyphs"  stroke="#000" stroke-width="0.2">2.0</text>
<text x="661.88" y="505.8" font-size="10.5" font-weight="bold" text-anchor="middle" font-family='"Liberation Serif", serif' textLength="12.34" lengthAdjust="spacingAndGlyphs"  stroke="#000" stroke-width="0.2">2.2</text>
<text stroke="#000" stroke-width="0.35" x="523.6" y="522.7" font-size="15.6" font-weight="bold" text-anchor="middle" font-family='"Liberation Serif", serif' textLength="157.6" lengthAdjust="spacing">Current density (A/g)</text>
<text stroke="#000" stroke-width="0.35" transform="translate(357.1,376.7) rotate(-90)" font-size="16.4" font-weight="bold" text-anchor="middle" font-family='"Liberation Serif", serif' textLength="170" lengthAdjust="spacingAndGlyphs">Specific capacity (C/g)</text>
<text x="442.2" y="290.4" font-size="16.4" font-weight="bold" text-anchor="middle" font-family='"Liberation Serif", serif' textLength="19.44" lengthAdjust="spacingAndGlyphs"  stroke="#000" stroke-width="0.4">(d)</text>
<rect x="594.4" y="273.8" width="67.6" height="34" fill="#fff" stroke="#111" stroke-width="1.2"/>
<rect x="376.1" y="273.8" width="285.9" height="219.6" fill="none" stroke="#000" stroke-width="2.1"/>
<line x1="595" y1="284.8" x2="619.6" y2="284.8" stroke="#000" stroke-width="2.6"/>
<circle cx="606.6" cy="284.8" r="4.2" fill="#000"/>
<circle cx="605.3" cy="283.4" r="1.2" fill="#fff" opacity="0.85"/>
<text x="621.9" y="287.6" font-size="12.4" font-weight="bold" text-anchor="start" font-family='"Liberation Serif", serif' textLength="22.93" lengthAdjust="spacingAndGlyphs"  stroke="#000" stroke-width="0.25">NiO</text>
<line x1="595" y1="301" x2="619.6" y2="301" stroke="#f00" stroke-width="2.6"/>
<circle cx="606.6" cy="301" r="4.2" fill="#f00"/>
<circle cx="605.3" cy="299.6" r="1.2" fill="#fff" opacity="0.85"/>
<text x="621.9" y="304.8" font-size="12.4" font-weight="bold" text-anchor="start" font-family='"Liberation Serif", serif' textLength="37.25" lengthAdjust="spacingAndGlyphs"  stroke="#000" stroke-width="0.25">G-NiO</text>
</svg>
</body></html>
